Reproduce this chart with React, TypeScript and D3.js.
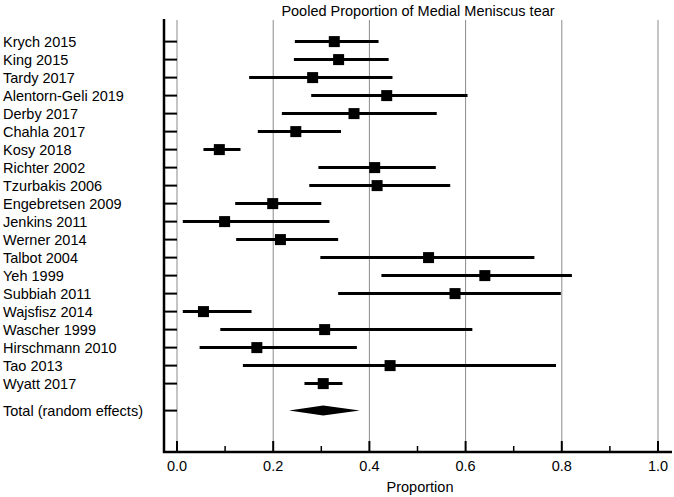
import * as d3 from "d3"

const studies = [
  "Krych 2015", "King 2015", "Tardy 2017", "Alentorn-Geli 2019", "Derby 2017",
  "Chahla 2017", "Kosy 2018", "Richter 2002", "Tzurbakis 2006", "Engebretsen 2009",
  "Jenkins 2011", "Werner 2014", "Talbot 2004", "Yeh 1999", "Subbiah 2011",
  "Wajsfisz 2014", "Wascher 1999", "Hirschmann 2010", "Tao 2013", "Wyatt 2017",
]
const estimates = [
  0.327, 0.336, 0.282, 0.436, 0.368, 0.247, 0.088, 0.411, 0.416, 0.199,
  0.099, 0.215, 0.523, 0.640, 0.578, 0.055, 0.307, 0.166, 0.443, 0.304,
]
const lower = [
  0.245, 0.243, 0.150, 0.279, 0.218, 0.168, 0.055, 0.294, 0.275, 0.121,
  0.012, 0.123, 0.298, 0.425, 0.335, 0.012, 0.090, 0.047, 0.137, 0.265,
]
const upper = [
  0.419, 0.440, 0.448, 0.604, 0.540, 0.341, 0.132, 0.538, 0.568, 0.300,
  0.317, 0.335, 0.743, 0.821, 0.798, 0.155, 0.614, 0.374, 0.788, 0.344,
]
const totalLabel = "Total (random effects)"
const total = { est: 0.304, lo: 0.233, hi: 0.380 }
const majorTicks = [0, 0.2, 0.4, 0.6, 0.8, 1.0]
const minorTicks = [0.1, 0.3, 0.5, 0.7, 0.9]

const W = 674
const H = 497
const axisLeft = 164
const plotTop = 20
const plotBottom = 452
const font = "'Liberation Sans', Arial, sans-serif"

export default function App() {
  const x = d3.scaleLinear().domain([0, 1]).range([177, 658])
  const y = d3.scaleLinear().domain([-1.2, 22.8]).range([plotTop, plotBottom])
  const totalRow = studies.length + 0.5
  const sq = 11

  const diamond = d3.line<[number, number]>()([
    [x(total.lo), y(totalRow)],
    [x(total.est), y(totalRow) - 5],
    [x(total.hi), y(totalRow)],
    [x(total.est), y(totalRow) + 5],
  ]) + "Z"

  return (
    <div style={{ position: "absolute", left: 0, top: 0 }}>
      <svg width={W} height={H} style={{ display: "block", background: "#fff" }}>
        {/* grid */}
        {majorTicks.map(t => (
          <line key={"g" + t} x1={x(t)} x2={x(t)} y1={plotTop} y2={plotBottom}
            stroke="#8a8a8a" strokeWidth={1} />
        ))}

        {/* title */}
        <text x={418} y={11} textAnchor="middle" dominantBaseline="central"
          fontFamily={font} fontSize={14.5} fill="#000">
          Pooled Proportion of Medial Meniscus tear
        </text>

        {/* y ticks and labels */}
        {studies.map((s, i) => (
          <g key={s}>
            <line x1={axisLeft} x2={x(0)} y1={y(i)} y2={y(i)} stroke="#000" strokeWidth={2} />
            <text x={3} y={y(i)} dominantBaseline="central" fontFamily={font}
              fontSize={14.5} fill="#000">{s}</text>
          </g>
        ))}
        <line x1={axisLeft} x2={x(0)} y1={y(totalRow)} y2={y(totalRow)} stroke="#000" strokeWidth={2} />
        <text x={3} y={y(totalRow)} dominantBaseline="central" fontFamily={font}
          fontSize={14.5} fill="#000">{totalLabel}</text>

        {/* CIs and estimates */}
        {studies.map((s, i) => (
          <g key={"m" + s}>
            <line x1={x(lower[i])} x2={x(upper[i])} y1={y(i)} y2={y(i)}
              stroke="#000" strokeWidth={3} />
            <rect x={x(estimates[i]) - sq / 2} y={y(i) - sq / 2} width={sq} height={sq} fill="#000" />
          </g>
        ))}
        <path d={diamond} fill="#000" />

        {/* axes */}
        <line x1={axisLeft} x2={axisLeft} y1={plotTop - 1} y2={plotBottom + 1}
          stroke="#000" strokeWidth={2.5} />
        <line x1={axisLeft - 1} x2={672} y1={plotBottom} y2={plotBottom}
          stroke="#000" strokeWidth={2.5} />
        {majorTicks.map(t => (
          <g key={"t" + t}>
            <line x1={x(t)} x2={x(t)} y1={plotBottom} y2={plotBottom - 11}
              stroke="#000" strokeWidth={2} />
            <text x={x(t)} y={466} textAnchor="middle" dominantBaseline="central"
              fontFamily={font} fontSize={14.5} fill="#000">{d3.format(".1f")(t)}</text>
          </g>
        ))}
        {minorTicks.map(t => (
          <line key={"n" + t} x1={x(t)} x2={x(t)} y1={plotBottom} y2={plotBottom - 6}
            stroke="#000" strokeWidth={1.5} />
        ))}
        <text x={420} y={487} textAnchor="middle" dominantBaseline="central"
          fontFamily={font} fontSize={14.5} fill="#000">Proportion</text>
      </svg>
    </div>
  )
}
